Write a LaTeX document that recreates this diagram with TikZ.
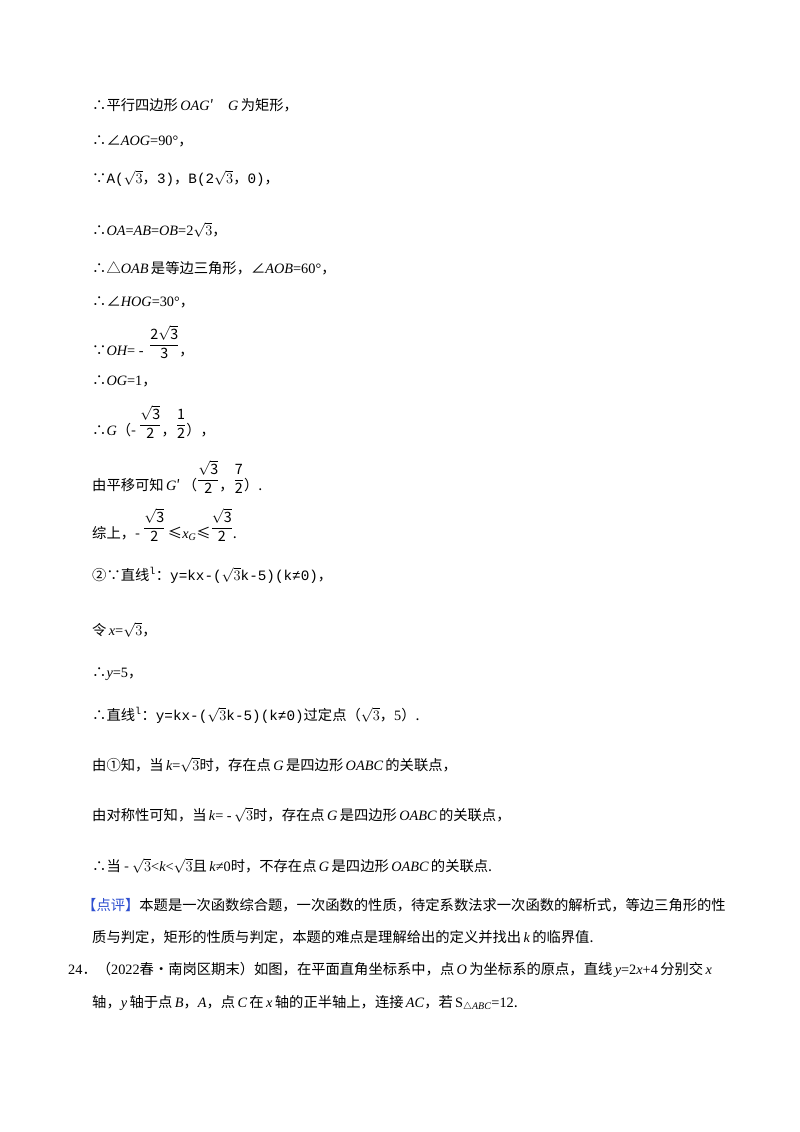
\documentclass[tikz,border=0pt]{standalone}
\usepackage{amsmath}
\usepackage{fontspec}
\setmainfont{Noto Sans CJK SC}
\newfontfamily\tm{Liberation Serif}
\newfontfamily\mono{Liberation Mono}
\newcommand{\vv}[1]{{\tm\itshape #1}}
\newcommand{\rr}[1]{{\tm #1}}
\newcommand{\mm}[1]{{\mono #1}}
\newcommand{\fr}[2]{\raisebox{6pt}{$\dfrac{\mathrm{#1}}{\mathrm{#2}}$}}
\definecolor{pingblue}{HTML}{2E4FD0}
\begin{document}
\begin{tikzpicture}[x=1pt,y=-1pt,
  ln/.style={anchor=base west,inner sep=0pt,font=\fontsize{14.3}{16}\selectfont}]
\useasboundingbox[fill=white] (0,0) rectangle (800,1132);
\node[ln] (l1) at (92,110) {∴平行四边形\,\vv{OAG}′\quad\vv{G}\,为矩形，};
\node[ln] (l2) at (92,145) {∴∠\vv{AOG}\rr{=90°}，};
\node[ln] (l3) at (92,183) {∵\mm{A($\sqrt{3}$}，\mm{3)}，\mm{B(2$\sqrt{3}$}，\mm{0)}，};
\node[ln] (l4) at (92,235) {∴\vv{OA}\rr{=}\vv{AB}\rr{=}\vv{OB}\rr{=2}$\sqrt{3}$，};
\node[ln] (l5) at (92,273) {∴△\vv{OAB}\,是等边三角形，∠\vv{AOB}\rr{=60°}，};
\node[ln] (l6) at (92,306) {∴∠\vv{HOG}\rr{=30°}，};
\node[ln] (l7) at (92,355) {∵\vv{OH}\rr{= -} \,\fr{2\sqrt{3}}{3}，};
\node[ln] (l8) at (92,385) {∴\vv{OG}\rr{=1}，};
\node[ln] (l9) at (92,435) {∴\vv{G}（- \fr{\sqrt{3}}{2}，\fr{1}{2}），};
\node[ln] (l10) at (92,490) {由平移可知\,\vv{G}′\,（\fr{\sqrt{3}}{2}，\fr{7}{2}）.};
\node[ln] (l11) at (92,538) {综上，- \fr{\sqrt{3}}{2}\,≤\vv{x}$_{\text{\vv{G}}}$≤\fr{\sqrt{3}}{2}.};
\node[ln] (l12) at (92,580) {②∵直线$^{\text{\mm{l}}}$：\mm{y=kx-($\sqrt{3}$k-5)(k≠0)}，};
\node[ln] (l13) at (92,635) {令\,\vv{x}\rr{=}$\sqrt{3}$，};
\node[ln] (l14) at (92,677) {∴\vv{y}\rr{=5}，};
\node[ln] (l15) at (92,720) {∴直线$^{\text{\mm{l}}}$：\mm{y=kx-($\sqrt{3}$k-5)(k≠0)}过定点（$\sqrt{3}$，\rr{5}）.};
\node[ln] (l16) at (92,770) {由①知，当\,\vv{k}\rr{=}$\sqrt{3}$时，存在点\,\vv{G}\,是四边形\,\vv{OABC}\,的关联点，};
\node[ln] (l17) at (92,820) {由对称性可知，当\,\vv{k}\rr{= -}\,$\sqrt{3}$时，存在点\,\vv{G}\,是四边形\,\vv{OABC}\,的关联点，};
\node[ln] (l18) at (92,871) {∴当 - $\sqrt{3}$\rr{<}\vv{k}\rr{<}$\sqrt{3}$且\,\vv{k}\rr{≠0}时，不存在点\,\vv{G}\,是四边形\,\vv{OABC}\,的关联点.};
\node[ln] (l19) at (82,910) {{\color{pingblue}【点评】}本题是一次函数综合题，一次函数的性质，待定系数法求一次函数的解析式，等边三角形的性};
\node[ln] (l20) at (92,942) {质与判定，矩形的性质与判定，本题的难点是理解给出的定义并找出\,\vv{k}\,的临界值.};
\node[ln] (l21) at (68,974) {\rr{24}．（\rr{2022}春•南岗区期末）如图，在平面直角坐标系中，点\,\vv{O}\,为坐标系的原点，直线\,\vv{y}\rr{=2}\vv{x}\rr{+4}\,分别交\,\vv{x}};
\node[ln] (l22) at (92,1007) {轴，\vv{y}\,轴于点\,\vv{B}，\vv{A}，点\,\vv{C}\,在\,\vv{x}\,轴的正半轴上，连接\,\vv{AC}，若\,\rr{S}$_{\triangle\text{\vv{ABC}}}$\rr{=12}.};
\end{tikzpicture}
\end{document}
